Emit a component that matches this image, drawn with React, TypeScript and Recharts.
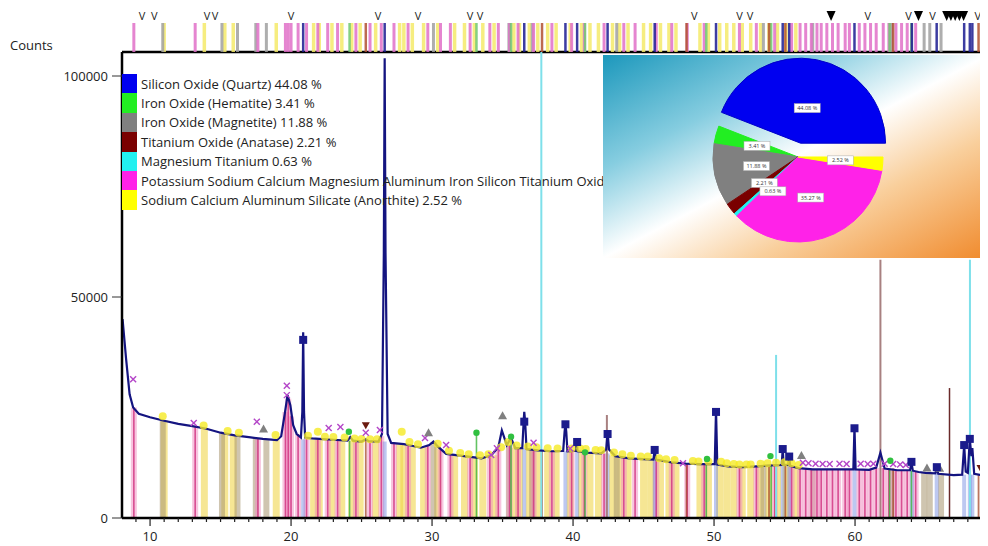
import React from 'react';
import {
  ComposedChart,
  Line,
  XAxis,
  YAxis,
  ReferenceLine,
  Scatter,
  PieChart,
  Pie,
  Cell,
} from 'recharts';

// phases (legend + pie)
const phaseNames = [
  'Silicon Oxide (Quartz)',
  'Iron Oxide (Hematite)',
  'Iron Oxide (Magnetite)',
  'Titanium Oxide (Anatase)',
  'Magnesium Titanium',
  'Potassium Sodium Calcium Magnesium Aluminum Iron Silicon Titanium Oxide',
  'Sodium Calcium Aluminum Silicate (Anorthite)',
];
const phaseShares = [44.08, 3.41, 11.88, 2.21, 0.63, 35.27, 2.52];
const phaseColors = ['#0000f0', '#22ee22', '#808080', '#7a0000', '#22f0f0', '#ff22e8', '#ffff00'];

// measured scan (2theta, counts)
const scanAngle = [
  8.05, 8.3, 8.55, 8.8, 9.2, 10.0, 11.0, 12.0, 13.0, 14.0, 15.0, 16.0, 17.0, 18.0, 19.0, 19.3, 19.55,
  19.75, 19.95, 20.15, 20.4, 20.7, 20.8, 20.86, 20.92, 21.0, 21.5, 22.0, 23.0, 24.0, 24.2, 24.4, 25.0,
  25.3, 25.5, 26.2, 26.45, 26.58, 26.64, 26.7, 26.85, 27.1, 28.0, 28.5, 29.2, 29.8, 30.1, 30.4, 31.0,
  32.0, 33.0, 33.5, 34.2, 34.7, 34.95, 35.3, 35.6, 35.9, 36.4, 36.5, 36.54, 36.6, 36.7, 37.5, 38.5,
  39.3, 39.4, 39.46, 39.52, 39.6, 40.2, 40.26, 40.32, 41.0, 42.0, 42.35, 42.45, 42.55, 43.0, 44.0,
  45.0, 45.7, 45.79, 45.88, 47.0, 48.0, 49.0, 50.05, 50.14, 50.23, 51.0, 52.0, 53.0, 54.0, 54.8,
  54.87, 54.94, 55.25, 55.33, 55.4, 56.0, 57.0, 58.0, 59.0, 59.88, 59.96, 60.04, 61.0, 61.5, 61.8,
  62.1, 63.0, 63.9, 64.0, 64.1, 64.5, 65.0, 65.7, 65.8, 65.9, 67.0, 67.6, 67.74, 67.85, 68.0, 68.14,
  68.25, 68.32, 68.45, 69.0, 69.4,
];
const scanCounts = [
  45000, 36000, 28000, 25000, 23600, 22800, 22000, 21300, 20800, 20200, 19300, 18700, 18300, 17900,
  17600, 18500, 23500, 27800, 25500, 21000, 19000, 18200, 24000, 42000, 24000, 18200, 18000, 17900,
  17700, 17500, 18300, 17500, 17300, 17800, 17400, 17300, 19000, 60000, 104000, 60000, 19000, 17000,
  16700, 16400, 15900, 16500, 17300, 16200, 14500, 14100, 13700, 13500, 14200, 16000, 19800, 16500,
  18100, 15800, 15800, 22000, 24000, 22000, 15600, 15300, 15100, 15200, 19500, 21300, 19500, 15100,
  15200, 17500, 15100, 14800, 14600, 15500, 19500, 15500, 14000, 13500, 13300, 13200, 15600, 13200,
  12600, 12300, 12200, 12200, 24500, 12100, 11700, 11500, 11700, 11900, 12000, 15700, 12000, 12000,
  14000, 11800, 11300, 11000, 11000, 11000, 11000, 20600, 11000, 10900, 11400, 14800, 11200, 10800,
  10800, 12500, 10700, 10400, 10200, 10100, 11500, 10000, 9700, 9800, 16500, 10500, 10200, 17900,
  14000, 15800, 10000, 9700, 9700,
];

// reference sticks per phase: [2theta, height]
const anorthiteSticks = [
  [11.0, 22100], [13.85, 20300], [15.3, 19200], [15.9, 18800], [18.95, 17600], [21.6, 17800],
  [22.0, 17800], [22.9, 17700], [23.6, 17600], [24.3, 17500], [24.9, 17400], [26.0, 17300],
  [27.7, 16900], [28.0, 16800], [28.6, 16400], [29.4, 16000], [30.4, 16200], [31.6, 14300],
  [32.3, 14000], [33.0, 13700], [33.6, 13700], [34.4, 14200], [35.8, 15900], [36.2, 15800],
  [36.9, 15500], [37.5, 15300], [38.2, 15200], [38.8, 15100], [39.8, 15100], [40.6, 15000],
  [41.2, 14800], [41.8, 14700], [42.8, 14200], [43.3, 14000], [43.9, 13600], [45.0, 13300],
  [45.5, 13200], [46.2, 12900], [46.8, 12700], [47.3, 12500], [49.0, 12200], [49.6, 12200],
  [50.4, 12100], [50.9, 11800], [51.4, 11600], [52.0, 11500], [52.6, 11600], [53.3, 11700],
  [53.9, 11900], [54.5, 12000], [55.1, 12000], [55.8, 11500],
];
const mixedOxideSticks = [
  [8.85, 25000], [13.2, 20800], [17.65, 18100], [19.6, 24000], [19.8, 27000], [20.0, 23000],
  [20.5, 19000], [21.1, 17900], [21.9, 17800], [22.6, 17700], [23.3, 17600], [24.6, 17500],
  [25.6, 17300], [26.4, 18500], [27.3, 17000], [28.3, 16600], [29.7, 16300], [30.6, 15600],
  [31.3, 14400], [32.7, 13800], [34.1, 14000], [34.7, 15800], [35.5, 16500], [36.1, 15800],
  [37.2, 15400], [38.5, 15100], [39.9, 15100], [40.8, 14900], [42.2, 14600], [43.6, 13800],
  [44.4, 13400], [45.9, 13000], [47.0, 12600], [48.1, 12300], [49.3, 12200], [51.8, 11500],
  [53.0, 11700], [54.3, 11900], [55.5, 11700], [56.1, 11300], [56.5, 11200], [56.9, 11100],
  [57.3, 11000], [57.6, 11000], [58.0, 11000], [58.4, 11000], [58.8, 11000], [59.3, 11000],
  [59.6, 11000], [60.3, 11000], [60.7, 10900], [61.1, 10900], [61.5, 11300], [62.0, 11300],
  [62.4, 11100], [62.9, 10800], [63.3, 10800], [63.7, 10700], [64.3, 10500],
];
const magnetiteSticks = [
  [10.9, 22200], [15.1, 19200], [16.2, 18600], [17.5, 18100], [18.25, 17900], [30.1, 17200],
  [35.45, 16600], [37.1, 15400], [43.1, 14000], [53.5, 11700], [57.0, 11000], [62.6, 11200],
  [64.9, 10200], [65.3, 10200], [66.1, 10000],
];
const hematiteSticks = [
  [24.15, 17500], [33.15, 19100], [35.6, 18000], [40.85, 14800], [49.45, 12200], [54.05, 11900],
  [62.45, 11200], [64.0, 10700],
];
const anataseSticks = [
  [25.3, 17800], [37.8, 15200], [48.05, 12300], [53.9, 11900], [55.06, 12000], [62.7, 11200],
  [68.76, 9900],
];
const quartzSticks = [
  [20.86, 17800], [26.64, 17300], [36.54, 15800], [39.46, 15100], [40.29, 15100], [42.45, 14600],
  [45.79, 13200], [50.14, 12200], [54.87, 12000], [55.33, 12000], [59.96, 11000], [64.03, 10700],
  [65.79, 10100], [67.74, 9800], [68.14, 9800], [68.32, 9800],
];
const magTiSticks = [[37.75, 110000], [54.4, 36900], [68.15, 58400]];
const anataseTallSticks = [[42.4, 23300], [61.8, 58400], [66.7, 29400]];

// peak markers
const quartzMarks = [
  [20.86, 40300], [36.54, 21800], [39.46, 21200], [40.29, 17200], [42.45, 19000], [45.79, 15400],
  [50.14, 24000], [54.87, 15600], [55.33, 13900], [59.96, 20300], [64.0, 12700], [65.8, 11500],
  [67.74, 16500], [68.14, 17900],
];
const mixedOxideMarks = [
  [8.8, 31400], [13.1, 21500], [17.57, 21800], [19.7, 29900], [19.7, 27800], [22.67, 20350],
  [23.5, 20600], [25.3, 19300], [26.3, 19900], [29.5, 18100], [31.0, 16500], [34.2, 14250],
  [34.6, 15800], [37.2, 17000], [39.8, 15700], [47.8, 12400], [56.3, 12500], [56.7, 12400],
  [57.2, 12300], [57.7, 12200], [58.2, 12200], [58.9, 12300], [59.4, 12200], [60.4, 12300],
  [60.9, 12200], [61.3, 12300], [62.1, 12300], [62.7, 12200], [63.2, 12100], [63.6, 12000],
];
const anorthiteMarks = [
  [10.9, 23000], [13.8, 20900], [15.5, 19700], [16.3, 19300], [18.9, 18800], [21.2, 18600],
  [21.9, 19500], [22.4, 18400], [23.0, 18300], [23.8, 18200], [24.5, 18000], [25.0, 17900],
  [25.6, 17800], [26.1, 17800], [27.85, 19500], [28.4, 17200], [29.0, 16700], [30.4, 16800],
  [31.2, 15200], [32.0, 14700], [32.6, 14400], [33.4, 14200], [34.0, 14400], [34.9, 16000],
  [35.4, 17200], [36.0, 16400], [36.8, 16200], [37.4, 16000], [38.2, 15800], [38.9, 15700],
  [39.9, 15700], [40.5, 15700], [40.9, 15600], [41.6, 15400], [42.0, 15300], [42.9, 14800],
  [43.5, 14400], [44.1, 14100], [44.8, 13900], [45.3, 13900], [46.1, 13500], [46.6, 13300],
  [47.2, 13100], [48.5, 12900], [48.9, 12800], [49.6, 12800], [50.5, 12700], [50.9, 12400],
  [51.4, 12200], [51.8, 12100], [52.3, 12100], [52.6, 12100], [53.3, 12300], [53.8, 12400],
  [54.4, 12500], [55.0, 12600], [55.5, 12400], [56.0, 12000],
];
const magnetiteMarks = [
  [18.05, 20000], [29.75, 19150], [35.0, 23000], [56.2, 14000], [65.1, 11200], [66.0, 11150],
];
const hematiteMarks = [
  [24.1, 19500], [33.15, 19300], [35.6, 18400], [40.85, 14850], [49.5, 13350], [54.0, 14000],
  [62.5, 12950],
];
const anataseMarks = [[25.3, 21000], [68.9, 11300]];

// unmatched-peak flags on top strip
const openFlags = [9.43, 10.3, 14.04, 14.6, 20.0, 26.17, 29.0, 32.7, 33.4, 48.6, 51.8, 52.55, 60.9, 63.8, 65.5, 68.7, 69.2];
const filledFlags = [58.3, 64.5, 66.5, 66.8, 67.1, 67.4, 67.7];

const xTicks = [
  9, 10, 11, 12, 13, 14, 15, 16, 17, 18, 19, 20, 21, 22, 23, 24, 25, 26, 27, 28, 29, 30, 31, 32, 33,
  34, 35, 36, 37, 38, 39, 40, 41, 42, 43, 44, 45, 46, 47, 48, 49, 50, 51, 52, 53, 54, 55, 56, 57, 58,
  59, 60, 61, 62, 63, 64, 65, 66, 67, 68, 69,
];
const yTicks = [0, 50000, 100000];

const X_DOMAIN: [number, number] = [8.01, 69.43];
const Y_MAX = 105430;
const FONT = "'Open Sans', 'Noto Sans', sans-serif";

const scan = scanAngle.map((a, i) => ({ angle: a, counts: scanCounts[i] }));
const toPoints = (pairs: number[][]) => pairs.map(([angle, counts]) => ({ angle, counts }));

// wide pale bars first, then thin coloured lines on top
const stickGroups = [
  { sticks: anorthiteSticks, color: '#f0d64c', width: 7, opacity: 0.6 },
  { sticks: magnetiteSticks, color: '#a89670', width: 6, opacity: 0.55 },
  { sticks: mixedOxideSticks, color: '#f08cc0', width: 6, opacity: 0.5 },
  { sticks: quartzSticks, color: '#6c86e0', width: 4, opacity: 0.45 },
  { sticks: mixedOxideSticks, color: '#d0307e', width: 1.6, opacity: 0.8 },
  { sticks: hematiteSticks, color: '#3cb43c', width: 1.6, opacity: 0.8 },
  { sticks: anataseSticks, color: '#a03c1e', width: 1.8, opacity: 0.7 },
];
const stripGroups = [
  { sticks: anorthiteSticks, color: '#f4ea6a', width: 3.5 },
  { sticks: magnetiteSticks, color: '#a0a0a0', width: 3 },
  { sticks: mixedOxideSticks, color: '#e070c8', width: 3 },
  { sticks: hematiteSticks, color: '#70c870', width: 2.5 },
  { sticks: anataseSticks, color: '#b05030', width: 2.5 },
  { sticks: quartzSticks, color: '#1a1a90', width: 2.5 },
];

const AngleTick = (props: any) => {
  const { x, y, payload } = props;
  const major = payload.value % 10 === 0;
  return (
    <g>
      <line x1={x} x2={x} y1={y} y2={y + (major ? 8 : 4)} stroke="#222" strokeWidth={1.2} />
      {major && (
        <text x={x} y={y + 23} textAnchor="middle" fontSize={13} fill="#222" fontFamily={FONT}>
          {payload.value}
        </text>
      )}
    </g>
  );
};

const squareShape = (p: any) => (
  <rect x={p.cx - 4} y={p.cy - 4} width={8} height={8} fill="#1b1b8c" />
);
const crossShape = (p: any) => (
  <g stroke="#b446c8" strokeWidth={1.4}>
    <line x1={p.cx - 3} y1={p.cy - 3} x2={p.cx + 3} y2={p.cy + 3} />
    <line x1={p.cx - 3} y1={p.cy + 3} x2={p.cx + 3} y2={p.cy - 3} />
  </g>
);
const blobShape = (p: any) => <circle cx={p.cx} cy={p.cy} r={4} fill="#f5ea24" fillOpacity={0.8} />;
const greenShape = (p: any) => <circle cx={p.cx} cy={p.cy} r={3.2} fill="#30c040" />;
const upTriangle = (p: any) => (
  <path d={`M${p.cx},${p.cy - 5}L${p.cx + 4.5},${p.cy + 3}L${p.cx - 4.5},${p.cy + 3}Z`} fill="#808080" />
);
const downTriangle = (p: any) => (
  <path d={`M${p.cx - 4},${p.cy - 3}L${p.cx + 4},${p.cy - 3}L${p.cx},${p.cy + 4}Z`} fill="#6a1a10" />
);
const openFlagShape = (p: any) => (
  <text x={p.cx} y={p.cy + 4} textAnchor="middle" fontSize={11} fill="#222" fontFamily={FONT}>
    V
  </text>
);
const filledFlagShape = (p: any) => (
  <path d={`M${p.cx - 4.5},${p.cy - 5}L${p.cx + 4.5},${p.cy - 5}L${p.cx},${p.cy + 5}Z`} fill="#000" />
);

const pieData = phaseNames.map((name, i) => ({ name, value: phaseShares[i] }));
// small nudge for the crowded thin-slice label
const labelAngleNudge = [0, 0, 0, 0, 11, 0, 0];

const sliceLabel = (exploded: boolean) => (p: any) => {
  const { cx, cy, midAngle, outerRadius, index } = p;
  if ((index === 0) !== exploded) return null;
  const r = outerRadius * (index === 0 ? 0.42 : 0.5);
  const rad = (Math.PI / 180) * (midAngle + labelAngleNudge[index]);
  const x = cx + r * Math.cos(rad);
  const y = cy - r * Math.sin(rad);
  return (
    <g key={`lbl-${index}`}>
      <rect x={x - 13} y={y - 4.5} width={26} height={9} fill="#fff" stroke="#aaa" strokeWidth={0.5} />
      <text x={x} y={y + 2} textAnchor="middle" fontSize={5.5} fill="#333" fontFamily={FONT}>
        {`${phaseShares[index].toFixed(2)} %`}
      </text>
    </g>
  );
};

export default function App() {
  return (
    <div style={{ position: 'relative', width: 980, height: 538, fontFamily: FONT, overflow: 'hidden' }}>
      <ComposedChart width={980} height={538} data={scan} margin={{ top: 44, right: 0, bottom: 0, left: 0 }}>
        <XAxis
          type="number"
          dataKey="angle"
          domain={X_DOMAIN}
          allowDataOverflow
          ticks={xTicks}
          interval={0}
          tick={<AngleTick />}
          tickLine={false}
          tickSize={0}
          tickMargin={0}
          height={28}
          axisLine={{ stroke: '#000', strokeWidth: 2.5 }}
        />
        <YAxis
          type="number"
          dataKey="counts"
          domain={[0, Y_MAX]}
          allowDataOverflow
          ticks={yTicks}
          width={114}
          tickSize={10}
          tickMargin={4}
          tickLine={{ stroke: '#333' }}
          axisLine={{ stroke: '#000', strokeWidth: 2.5 }}
          tick={{ fontSize: 13, fill: '#222', fontFamily: FONT }}
        />
        <ReferenceLine y={Y_MAX} stroke="#000" strokeWidth={2.5} />
        {stickGroups.map((g, gi) =>
          g.sticks.map(([a, h], i) => (
            <ReferenceLine
              key={`s${gi}-${i}`}
              segment={[{ x: a, y: 0 }, { x: a, y: h }]}
              stroke={g.color}
              strokeWidth={g.width}
              strokeOpacity={g.opacity}
              ifOverflow="hidden"
            />
          )),
        )}
        {magTiSticks.map(([a, h], i) => (
          <ReferenceLine key={`mt${i}`} segment={[{ x: a, y: 0 }, { x: a, y: h }]} stroke="#7ee0ea" strokeWidth={2} ifOverflow="hidden" />
        ))}
        {anataseTallSticks.map(([a, h], i) => (
          <ReferenceLine key={`at${i}`} segment={[{ x: a, y: 0 }, { x: a, y: h }]} stroke={i === 2 ? '#6a2a2a' : '#a88080'} strokeWidth={i === 2 ? 1.5 : 2} ifOverflow="hidden" />
        ))}
        <Line dataKey="counts" type="linear" stroke="#141480" strokeWidth={2.2} dot={false} isAnimationActive={false} />
        <Scatter data={toPoints(anorthiteMarks)} dataKey="counts" shape={blobShape} isAnimationActive={false} />
        <Scatter data={toPoints(mixedOxideMarks)} dataKey="counts" shape={crossShape} isAnimationActive={false} />
        <Scatter data={toPoints(hematiteMarks)} dataKey="counts" shape={greenShape} isAnimationActive={false} />
        <Scatter data={toPoints(magnetiteMarks)} dataKey="counts" shape={upTriangle} isAnimationActive={false} />
        <Scatter data={toPoints(anataseMarks)} dataKey="counts" shape={downTriangle} isAnimationActive={false} />
        <Scatter data={toPoints(quartzMarks)} dataKey="counts" shape={squareShape} isAnimationActive={false} />
      </ComposedChart>

      {/* peak-position strip above the plot */}
      <div style={{ position: 'absolute', left: 0, top: 0 }}>
        <ComposedChart width={980} height={44} margin={{ top: 0, right: 0, bottom: 0, left: 114 }}>
          <XAxis type="number" dataKey="angle" domain={X_DOMAIN} allowDataOverflow hide />
          <YAxis type="number" dataKey="counts" domain={[0, 44]} allowDataOverflow hide />
          {stripGroups.map((g, gi) =>
            g.sticks.map(([a], i) => (
              <ReferenceLine
                key={`t${gi}-${i}`}
                segment={[{ x: a, y: 0 }, { x: a, y: 29 }]}
                stroke={g.color}
                strokeWidth={g.width}
                strokeOpacity={0.85}
                ifOverflow="hidden"
              />
            )),
          )}
          <Scatter data={openFlags.map((a) => ({ angle: a, counts: 36 }))} dataKey="counts" shape={openFlagShape} isAnimationActive={false} />
          <Scatter data={filledFlags.map((a) => ({ angle: a, counts: 36 }))} dataKey="counts" shape={filledFlagShape} isAnimationActive={false} />
        </ComposedChart>
      </div>

      <div style={{ position: 'absolute', left: 2, top: 28, fontSize: 13, color: '#222' }}>Counts</div>

      {/* legend */}
      <div style={{ position: 'absolute', left: 114, top: 66 }}>
        {phaseNames.map((name, i) => (
          <div key={name} style={{ display: 'flex', alignItems: 'center', height: 19.4 }}>
            <div style={{ width: 15, height: 19.4, background: phaseColors[i] }} />
            <span style={{ marginLeft: 4, fontSize: 13, color: '#222', whiteSpace: 'nowrap' }}>
              {`${name} ${phaseShares[i].toFixed(2)} %`}
            </span>
          </div>
        ))}
      </div>

      {/* phase share inset */}
      <div
        style={{
          position: 'absolute',
          left: 595,
          top: 47,
          width: 385,
          height: 203,
          background:
            'linear-gradient(to bottom right, #1c98bc 0%, #86cde0 28%, #ffffff 50%, #f9cf9c 70%, #f08a2c 100%)',
        }}
      >
        <PieChart width={385} height={203} margin={{ top: 0, right: 0, bottom: 0, left: 0 }}>
          <Pie
            data={pieData}
            dataKey="value"
            cx={195}
            cy={102}
            outerRadius={85}
            startAngle={0}
            endAngle={360}
            label={sliceLabel(false)}
            labelLine={false}
            isAnimationActive={false}
          >
            {pieData.map((d, i) => (
              <Cell key={d.name} fill={i === 0 ? 'none' : phaseColors[i]} stroke={i === 0 ? 'none' : phaseColors[i]} />
            ))}
          </Pie>
          <Pie
            data={pieData}
            dataKey="value"
            cx={197.6}
            cy={88.2}
            outerRadius={85}
            startAngle={0}
            endAngle={360}
            label={sliceLabel(true)}
            labelLine={false}
            isAnimationActive={false}
          >
            {pieData.map((d, i) => (
              <Cell key={d.name} fill={i === 0 ? phaseColors[0] : 'none'} stroke={i === 0 ? '#0000c8' : 'none'} />
            ))}
          </Pie>
        </PieChart>
      </div>
    </div>
  );
}
